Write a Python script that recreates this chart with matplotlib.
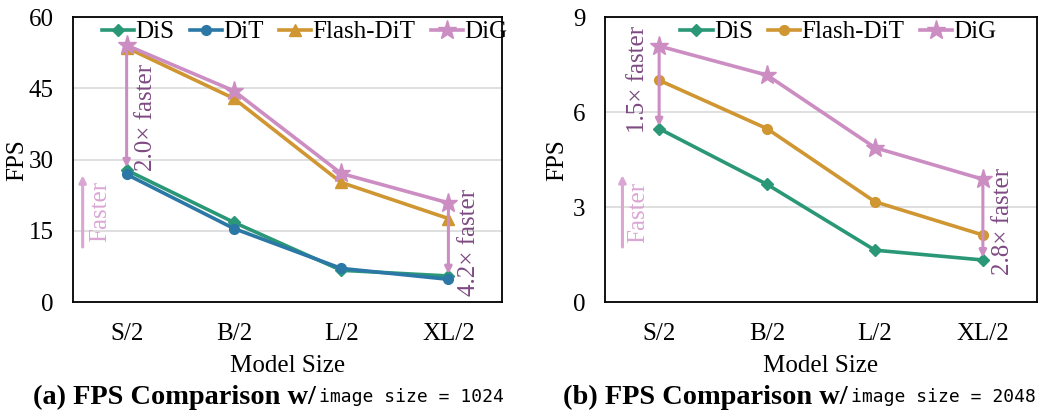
import matplotlib
matplotlib.use("Agg")
import matplotlib.pyplot as plt

categories = ["S/2", "B/2", "L/2", "XL/2"]

# (a) image size = 1024
a_dis = [27.8, 16.8, 6.7, 5.5]
a_dit = [26.9, 15.5, 7.1, 4.8]
a_flash = [53.6, 42.9, 25.2, 17.6]
a_dig = [54.1, 44.5, 27.1, 20.9]

# (b) image size = 2048
b_dis = [5.48, 3.72, 1.64, 1.33]
b_flash = [7.01, 5.48, 3.17, 2.12]
b_dig = [8.09, 7.17, 4.88, 3.88]

C_DIS = "#2a9876"
C_DIT = "#2b78a6"
C_FLASH = "#cf9631"
C_DIG = "#cc8dc3"
C_TXT = "#7d4a82"
C_FASTER = "#dba6d4"

plt.rcParams['font.family'] = ['Liberation Serif', 'DejaVu Serif']

FS = 18

fig = plt.figure(figsize=(10.58, 4.11), dpi=100)
axa = fig.add_axes([0.069, 0.265, 0.4055, 0.693])
axb = fig.add_axes([0.572, 0.265, 0.408, 0.693])

x = list(range(len(categories)))
lw = 2.6


def style(ax, ymax, step, ylab_x):
    ax.set_xlim(-0.5, 3.5)
    ax.set_ylim(0, ymax)
    ax.set_yticks([i * step for i in range(int(round(ymax / step)) + 1)])
    ax.set_xticks(x)
    ax.set_xticklabels(categories)
    ax.tick_params(axis='both', length=0, labelsize=FS)
    ax.tick_params(axis='x', pad=15)
    ax.tick_params(axis='y', pad=14)
    ax.yaxis.grid(True, color='#d9d9d9', lw=1.2)
    ax.set_axisbelow(True)
    for s in ax.spines.values():
        s.set_linewidth(1.3)
        s.set_color('black')
    ax.set_xlabel("Model Size", fontsize=FS, labelpad=7)
    ax.set_ylabel("FPS", fontsize=FS)
    ax.yaxis.set_label_coords(ylab_x, 0.5)


arrow_kw = dict(arrowstyle='-|>', color=C_DIG, lw=2.2, mutation_scale=10, shrinkA=0, shrinkB=0)
faster_kw = dict(arrowstyle='-|>', color=C_FASTER, lw=2.2, mutation_scale=10, shrinkA=0, shrinkB=0)
leg_kw = dict(loc='upper center', frameon=False, fontsize=FS, handlelength=1.3,
              handletextpad=0.05, columnspacing=0.6, borderaxespad=0.2)

# Panel (a)
axa.plot(x, a_dis, color=C_DIS, lw=lw, marker='D', ms=6, label='DiS')
axa.plot(x, a_dit, color=C_DIT, lw=lw, marker='o', ms=7, label='DiT')
axa.plot(x, a_flash, color=C_FLASH, lw=lw, marker='^', ms=9, label='Flash-DiT')
axa.plot(x, a_dig, color=C_DIG, lw=lw, marker='*', ms=14, label='DiG')
style(axa, 60, 15, -0.104)
axa.legend(bbox_to_anchor=(0.54, 1.04), ncol=4, **leg_kw)

axa.annotate("", xy=(0, a_dis[0] + 0.6), xytext=(0, a_dig[0] - 1.5), arrowprops=arrow_kw)
axa.text(0.18, 39, "2.0× faster", rotation=90, color=C_TXT, fontsize=FS, ha='center', va='center')
axa.annotate("", xy=(3, a_dis[3] + 0.4), xytext=(3, a_dig[3] - 1.2), arrowprops=arrow_kw)
axa.text(3.19, 12.5, "4.2× faster", rotation=90, color=C_TXT, fontsize=FS, ha='center', va='center')
axa.annotate("", xy=(-0.41, 26.7), xytext=(-0.41, 11.6), arrowprops=faster_kw)
axa.text(-0.25, 19, "Faster", rotation=90, color=C_FASTER, fontsize=FS, ha='center', va='center')

# Panel (b)
axb.plot(x, b_dis, color=C_DIS, lw=lw, marker='D', ms=6, label='DiS')
axb.plot(x, b_flash, color=C_FLASH, lw=lw, marker='o', ms=7, label='Flash-DiT')
axb.plot(x, b_dig, color=C_DIG, lw=lw, marker='*', ms=14, label='DiG')
style(axb, 9, 3, -0.086)
axb.legend(bbox_to_anchor=(0.54, 1.04), ncol=3, **leg_kw)

axb.annotate("", xy=(0, b_dis[0] + 0.08), xytext=(0, b_dig[0] - 0.2), arrowprops=arrow_kw)
axb.text(-0.2, 7.03, "1.5× faster", rotation=90, color=C_TXT, fontsize=FS, ha='center', va='center')
axb.annotate("", xy=(3, b_dis[3] + 0.08), xytext=(3, b_dig[3] - 0.2), arrowprops=arrow_kw)
axb.text(3.19, 2.56, "2.8× faster", rotation=90, color=C_TXT, fontsize=FS, ha='center', va='center')
axb.annotate("", xy=(-0.34, 4.01), xytext=(-0.34, 1.74), arrowprops=faster_kw)
axb.text(-0.19, 2.84, "Faster", rotation=90, color=C_FASTER, fontsize=FS, ha='center', va='center')

# Subtitles
ysub = 1 - 397 / 411
fig.text(0.2985, ysub, "(a) FPS Comparison w/", fontsize=20.4, fontweight='bold', ha='right', va='center')
fig.text(0.3015, ysub, "image size = 1024", fontsize=13, family='DejaVu Sans Mono', ha='left', va='center')
fig.text(0.8015, ysub, "(b) FPS Comparison w/", fontsize=20.4, fontweight='bold', ha='right', va='center')
fig.text(0.8045, ysub, "image size = 2048", fontsize=13, family='DejaVu Sans Mono', ha='left', va='center')

fig.savefig("out.png", dpi=100)
